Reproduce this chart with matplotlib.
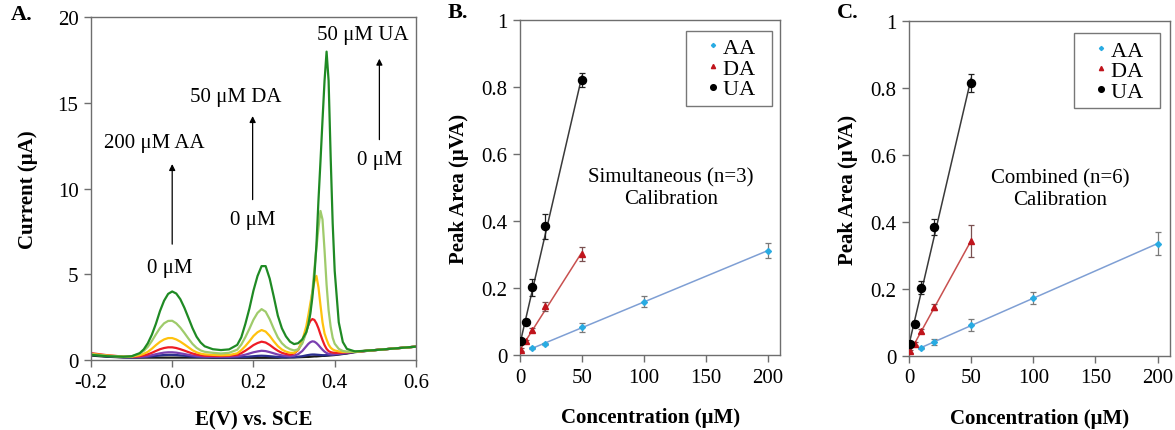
import numpy as np
import matplotlib
matplotlib.use('Agg')
import matplotlib.pyplot as plt

plt.rcParams['font.family'] = ['Liberation Serif', 'DejaVu Serif']

# ---- Panel A: voltammograms (potential grid in V, current in uA) ----
potential = [-0.20, -0.16, -0.12, -0.10, -0.08, -0.07, -0.06, -0.05, -0.04, -0.03,
             -0.02, -0.01, 0.00, 0.01, 0.02, 0.03, 0.04, 0.05, 0.06, 0.07,
             0.08, 0.10, 0.12, 0.14, 0.16, 0.17, 0.18, 0.19, 0.20, 0.21,
             0.22, 0.23, 0.24, 0.25, 0.26, 0.27, 0.28, 0.29, 0.30, 0.31,
             0.32, 0.33, 0.335, 0.34, 0.345, 0.35, 0.355, 0.36, 0.365, 0.37,
             0.375, 0.38, 0.385, 0.39, 0.395, 0.40, 0.41, 0.42, 0.43, 0.45,
             0.50, 0.55, 0.60]

cur_black = [0.26, 0.19, 0.15, 0.14, 0.14, 0.14, 0.14, 0.14, 0.14, 0.14,
             0.14, 0.14, 0.14, 0.14, 0.14, 0.14, 0.14, 0.14, 0.14, 0.14,
             0.14, 0.13, 0.13, 0.13, 0.13, 0.13, 0.13, 0.13, 0.13, 0.13,
             0.13, 0.13, 0.13, 0.13, 0.13, 0.14, 0.14, 0.15, 0.15, 0.16,
             0.17, 0.18, 0.18, 0.19, 0.20, 0.21, 0.21, 0.22, 0.23, 0.24,
             0.24, 0.25, 0.26, 0.27, 0.28, 0.29, 0.32, 0.35, 0.38, 0.46,
             0.58, 0.68, 0.78]
cur_navy = [0.30, 0.21, 0.16, 0.15, 0.16, 0.17, 0.19, 0.21, 0.24, 0.27,
            0.29, 0.30, 0.30, 0.29, 0.27, 0.25, 0.22, 0.20, 0.18, 0.17,
            0.16, 0.16, 0.15, 0.15, 0.16, 0.17, 0.18, 0.20, 0.22, 0.24,
            0.25, 0.24, 0.22, 0.20, 0.18, 0.17, 0.16, 0.16, 0.17, 0.19,
            0.22, 0.27, 0.29, 0.31, 0.32, 0.32, 0.31, 0.30, 0.29, 0.28,
            0.28, 0.28, 0.29, 0.30, 0.31, 0.32, 0.34, 0.37, 0.40, 0.48,
            0.58, 0.68, 0.78]
cur_purple = [0.34, 0.24, 0.18, 0.17, 0.18, 0.20, 0.23, 0.28, 0.34, 0.39,
              0.43, 0.45, 0.45, 0.43, 0.39, 0.35, 0.30, 0.26, 0.23, 0.21,
              0.20, 0.19, 0.19, 0.19, 0.22, 0.26, 0.31, 0.38, 0.45, 0.50,
              0.54, 0.52, 0.46, 0.39, 0.32, 0.27, 0.24, 0.22, 0.25, 0.34,
              0.52, 0.80, 0.94, 1.04, 1.09, 1.07, 0.99, 0.87, 0.73, 0.60,
              0.49, 0.41, 0.36, 0.34, 0.33, 0.34, 0.36, 0.39, 0.42, 0.48,
              0.58, 0.68, 0.78]
cur_red = [0.40, 0.28, 0.20, 0.19, 0.22, 0.27, 0.33, 0.42, 0.53, 0.63,
           0.70, 0.74, 0.74, 0.70, 0.63, 0.55, 0.46, 0.38, 0.32, 0.28,
           0.25, 0.24, 0.23, 0.25, 0.30, 0.40, 0.54, 0.70, 0.87, 0.99,
           1.07, 1.02, 0.88, 0.70, 0.54, 0.42, 0.35, 0.31, 0.38, 0.58,
           1.03, 1.70, 2.03, 2.28, 2.39, 2.34, 2.14, 1.85, 1.49, 1.16,
           0.87, 0.65, 0.52, 0.46, 0.43, 0.42, 0.42, 0.44, 0.45, 0.48,
           0.58, 0.68, 0.78]
cur_yellow = [0.36, 0.26, 0.20, 0.20, 0.28, 0.36, 0.48, 0.66, 0.87, 1.06,
              1.20, 1.28, 1.28, 1.20, 1.07, 0.91, 0.74, 0.57, 0.45, 0.37,
              0.33, 0.30, 0.28, 0.29, 0.39, 0.57, 0.81, 1.09, 1.40, 1.62,
              1.75, 1.66, 1.41, 1.09, 0.81, 0.61, 0.49, 0.42, 0.42, 0.60,
              1.12, 1.96, 2.60, 3.30, 3.98, 4.56, 4.91, 4.25, 3.20, 2.20,
              1.55, 1.20, 0.90, 0.72, 0.62, 0.56, 0.50, 0.47, 0.47, 0.48,
              0.58, 0.68, 0.78]
cur_lgreen = [0.33, 0.24, 0.20, 0.21, 0.37, 0.53, 0.77, 1.11, 1.50, 1.87,
              2.14, 2.28, 2.29, 2.14, 1.89, 1.58, 1.25, 0.94, 0.71, 0.56,
              0.48, 0.42, 0.38, 0.42, 0.60, 0.90, 1.33, 1.82, 2.35, 2.75,
              2.97, 2.82, 2.38, 1.82, 1.32, 0.98, 0.76, 0.63, 0.56, 0.62,
              0.95, 1.60, 2.10, 2.90, 4.00, 5.30, 6.55, 7.70, 8.70, 8.20,
              6.40, 4.40, 2.90, 1.95, 1.30, 0.95, 0.65, 0.53, 0.49, 0.49,
              0.58, 0.68, 0.78]
cur_dgreen = [0.30, 0.22, 0.19, 0.22, 0.40, 0.62, 0.98, 1.48, 2.12, 2.86,
              3.46, 3.86, 4.00, 3.88, 3.55, 3.05, 2.46, 1.86, 1.36, 1.02,
              0.80, 0.63, 0.58, 0.62, 0.88, 1.32, 2.10, 3.00, 4.05, 4.90,
              5.48, 5.48, 4.75, 3.70, 2.59, 1.85, 1.38, 1.07, 0.93, 0.98,
              1.20, 1.62, 2.05, 2.70, 3.65, 4.90, 6.70, 9.30, 11.60, 14.00,
              16.30, 18.00, 16.30, 11.90, 8.00, 5.20, 2.20, 1.05, 0.65, 0.50,
              0.58, 0.68, 0.78]

curves = [cur_black, cur_navy, cur_purple, cur_red, cur_yellow, cur_lgreen, cur_dgreen]
curve_colors = ['#1a1a1a', '#2b2f8f', '#7a3fb0', '#ee1c25', '#ffc20e', '#9fcb6b', '#1f8a24']

# ---- Panels B and C: calibration data ----
conc_AA = [10, 20, 50, 100, 200]
conc_DA = [1, 5, 10, 20, 50]
conc_UA = [1, 5, 10, 20, 50]

simul_AA = [0.021, 0.033, 0.083, 0.159, 0.311]
simul_AA_err = [0.004, 0.004, 0.013, 0.016, 0.022]
simul_DA = [0.016, 0.041, 0.076, 0.145, 0.302]
simul_DA_err = [0.004, 0.005, 0.006, 0.013, 0.020]
simul_UA = [0.041, 0.098, 0.202, 0.384, 0.821]
simul_UA_err = [0.005, 0.008, 0.025, 0.037, 0.022]

comb_AA = [0.024, 0.042, 0.092, 0.173, 0.335]
comb_AA_err = [0.004, 0.009, 0.017, 0.019, 0.035]
comb_DA = [0.014, 0.037, 0.075, 0.146, 0.343]
comb_DA_err = [0.004, 0.005, 0.006, 0.010, 0.048]
comb_UA = [0.035, 0.097, 0.204, 0.385, 0.815]
comb_UA_err = [0.005, 0.008, 0.020, 0.025, 0.028]

spine_col = '#6e6e6e'
FS = 15

fig = plt.figure(figsize=(11.75, 4.31), dpi=100)


def style_axes(ax):
    for s in ax.spines.values():
        s.set_color(spine_col)
        s.set_linewidth(1.0)
    ax.tick_params(direction='out', length=5, width=1.0, color=spine_col,
                   labelsize=FS, pad=4)


# Panel A
axA = fig.add_axes([0.0774, 0.1624, 0.2766, 0.795])
for y, c in zip(curves, curve_colors):
    axA.plot(potential, y, color=c, lw=1.6, solid_joinstyle='round')
axA.set_xlim(-0.2, 0.6)
axA.set_ylim(0, 20)
axA.set_xticks([-0.2, 0.0, 0.2, 0.4, 0.6])
axA.set_xticklabels(['-0.2', '0.0', '0.2', '0.4', '0.6'])
axA.set_yticks([0, 5, 10, 15, 20])
style_axes(axA)
axA.set_xlabel('E(V) vs. SCE', fontsize=FS, fontweight='bold', labelpad=13)
axA.set_ylabel('Current (\u03bcA)', fontsize=FS, fontweight='bold', labelpad=14)

arrow_kw = dict(arrowstyle='-|>', color='black', lw=0.9, mutation_scale=9)
axA.annotate('', xy=(0.0, 11.6), xytext=(0.0, 6.6), arrowprops=arrow_kw)
axA.annotate('', xy=(0.198, 14.4), xytext=(0.198, 9.2), arrowprops=arrow_kw)
axA.annotate('', xy=(0.51, 17.75), xytext=(0.51, 12.7), arrowprops=arrow_kw)
axA.text(-0.043, 12.7, '200 \u03bcM AA', fontsize=FS, ha='center', va='center')
axA.text(-0.006, 5.4, '0 \u03bcM', fontsize=FS, ha='center', va='center')
axA.text(0.156, 15.4, '50 \u03bcM DA', fontsize=FS, ha='center', va='center')
axA.text(0.198, 8.2, '0 \u03bcM', fontsize=FS, ha='center', va='center')
axA.text(0.468, 19.0, '50 \u03bcM UA', fontsize=FS, ha='center', va='center')
axA.text(0.51, 11.7, '0 \u03bcM', fontsize=FS, ha='center', va='center')
fig.text(22 / 1175, 1 - 15 / 431, 'A.', fontsize=16, fontweight='bold',
         ha='center', va='center')


def calib_panel(rect, aa, aa_e, da, da_e, ua, ua_e, note, letter, letter_x, leg_anchor):
    ax = fig.add_axes(rect)
    series = [
        (conc_AA, aa, aa_e, 'AA', 'D', 3.0, '#29abe2', '#7f9fd4', '#7a7a7a'),
        (conc_DA, da, da_e, 'DA', '^', 4.3, '#c0141c', '#c8504f', '#7a5050'),
        (conc_UA, ua, ua_e, 'UA', 'o', 5.8, '#000000', '#3a3a3a', '#202020'),
    ]
    handles = []
    for x, y, e, lab, mk, ms, mc, lc, ec in series:
        # straight calibration line through the points
        k, b = np.polyfit(x, y, 1)
        xf = np.array([min(x), max(x)])
        ax.plot(xf, k * xf + b, color=lc, lw=1.1, zorder=2)
        ax.errorbar(x, y, yerr=e, fmt='none', ecolor=ec, elinewidth=0.9,
                    capsize=2.5, capthick=0.9, zorder=3)
        h, = ax.plot(x, y, linestyle='none', marker=mk, ms=ms, color=mc,
                     markeredgecolor=mc, zorder=4, label=lab + '  ')
        handles.append(h)
    ax.set_xlim(0, 210)
    ax.set_ylim(0, 1)
    ax.set_xticks([0, 50, 100, 150, 200])
    ax.set_yticks([0, 0.2, 0.4, 0.6, 0.8, 1.0])
    ax.set_yticklabels(['0', '0.2', '0.4', '0.6', '0.8', '1'])
    style_axes(ax)
    ax.set_xlabel('Concentration (\u03bcM)', fontsize=FS, fontweight='bold', labelpad=15)
    ax.set_ylabel('Peak Area (\u03bcVA)', fontsize=FS, fontweight='bold', labelpad=9)
    ax.text(0.58, 0.5, note, transform=ax.transAxes, fontsize=FS,
            ha='center', va='center', linespacing=1.15)
    leg = ax.legend(handles=handles, loc='upper right', bbox_to_anchor=leg_anchor,
                    borderaxespad=0, fontsize=FS + 1, frameon=True, fancybox=False,
                    handlelength=1.85, handletextpad=-0.5, labelspacing=0.0,
                    borderpad=0.3, markerscale=0.7)
    leg.get_frame().set_edgecolor('#555555')
    leg.get_frame().set_linewidth(1.0)
    fig.text(letter_x, 1 - 13 / 431, letter, fontsize=16, fontweight='bold',
             ha='center', va='center')
    return ax


calib_panel([0.4426, 0.174, 0.2213, 0.7773], simul_AA, simul_AA_err, simul_DA,
            simul_DA_err, simul_UA, simul_UA_err,
            'Simultaneous (n=3)\nCalibration', 'B.', 458 / 1175, (0.967, 0.967))
calib_panel([0.7736, 0.1717, 0.2221, 0.7773], comb_AA, comb_AA_err, comb_DA,
            comb_DA_err, comb_UA, comb_UA_err,
            'Combined (n=6)\nCalibration', 'C.', 848 / 1175, (0.96, 0.963))

fig.savefig('out.png', dpi=100)
